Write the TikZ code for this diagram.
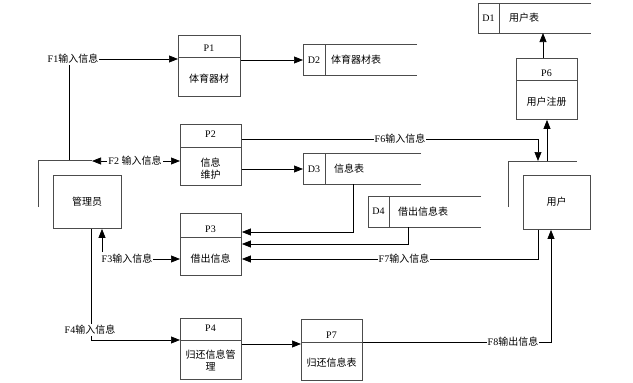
\documentclass[tikz,border=0pt]{standalone}
\usepackage{fontspec}
\setmainfont{Liberation Serif}
\newfontfamily\zhfont{Noto Sans CJK SC}
\newcommand{\zh}[1]{{\zhfont #1}}
\usetikzlibrary{arrows.meta}
\begin{document}
\begin{tikzpicture}[x=1pt,y=-1pt,
  every node/.style={font=\fontsize{10}{12}\selectfont, inner sep=0pt},
  box/.style={draw=black!70, line width=0.9pt, rectangle, anchor=north west},
  line/.style={draw=black, line width=0.7pt},
  arr/.style={line, -{Triangle[length=9pt,width=7pt]}},
  darr/.style={line, {Triangle[length=9pt,width=7pt]}-{Triangle[length=9pt,width=7pt]}},
  lbl/.style={fill=white, inner xsep=1pt, inner ysep=1pt},
  sep/.style={draw=black!70, line width=0.9pt}]
\useasboundingbox (0,0) rectangle (633,383);

% ---------- process boxes ----------
\node[box, minimum width=62pt, minimum height=61pt] (P1) at (178,35) {};
\draw[sep] (178,57) -- (240,57);
\node (P1t) at (209,48) {P1};
\node (P1b) at (209,79) {\zh{体育器材}};

\node[box, minimum width=61pt, minimum height=61pt] (P2) at (180,124) {};
\draw[sep] (180,147) -- (241,147);
\node (P2t) at (210.5,134) {P2};
\node[align=center] (P2b) at (210.5,168.5) {\zh{信息}\\\zh{维护}};

\node[box, minimum width=61pt, minimum height=62pt] (P3) at (180,213) {};
\draw[sep] (180,237) -- (241,237);
\node (P3t) at (210.5,229) {P3};
\node (P3b) at (210.5,259) {\zh{借出信息}};

\node[box, minimum width=61pt, minimum height=61pt] (P4) at (180,318) {};
\draw[sep] (180,340) -- (241,340);
\node (P4t) at (210.5,328) {P4};
\node[align=center] (P4b) at (210.5,360.5) {\zh{归还信息管}\\\zh{理}};

\node[box, minimum width=61pt, minimum height=61pt] (P7) at (301,319) {};
\draw[sep] (301,342) -- (362,342);
\node (P7t) at (331.5,335) {P7};
\node (P7b) at (331.5,363) {\zh{归还信息表}};

\node[box, minimum width=61pt, minimum height=61pt] (P6) at (516,58) {};
\draw[sep] (516,80) -- (577,80);
\node (P6t) at (546.5,73) {P6};
\node (P6b) at (546.5,102) {\zh{用户注册}};

% ---------- data stores ----------
\draw[sep] (417,44) -- (303,44) -- (303,75) -- (417,75);
\draw[sep] (325,44) -- (325,75);
\node (D2t) at (314,60) {D2};
\node (D2b) at (356,60) {\zh{体育器材表}};
\coordinate (D2) at (303,60);

\draw[sep] (591,3) -- (478,3) -- (478,33) -- (591,33);
\draw[sep] (499,3) -- (499,33);
\node (D1t) at (488.5,18) {D1};
\node (D1b) at (524,18) {\zh{用户表}};
\coordinate (D1) at (543,33);

\draw[sep] (421,153) -- (303,153) -- (303,184) -- (421,184);
\draw[sep] (325,153) -- (325,184);
\node (D3t) at (314,169) {D3};
\node (D3b) at (349,169) {\zh{信息表}};
\coordinate (D3in) at (303,169);
\coordinate (D3out) at (353,184);

\draw[sep] (481,196) -- (368,196) -- (368,227) -- (481,227);
\draw[sep] (389,196) -- (389,227);
\node (D4t) at (378.5,211.5) {D4};
\node (D4b) at (423,211.5) {\zh{借出信息表}};
\coordinate (D4out) at (408,227);

% ---------- external entities ----------
\node[box, minimum width=68pt, minimum height=53pt] (M) at (53,175) {};
\node (Mt) at (87,202) {\zh{管理员}};
\draw[sep] (38,207) -- (38,160) -- (92,160);
\coordinate (Mtop) at (69,160);
\coordinate (Mleft) at (92,161);

\node[box, minimum width=67pt, minimum height=54pt] (U) at (523,175) {};
\node (Ut) at (556.5,202) {\zh{用户}};
\draw[sep] (508,207) -- (508,161) -- (577,161);
\coordinate (Utop1) at (538,161);
\coordinate (Utop2) at (547,161);

% ---------- connectors ----------
% F1
\draw[arr] (Mtop) -- (69,59) -- (P1.west |- 0,59);
\node[lbl] (F1) at (73,59) {F1\zh{输入信息}};
% P1 -> D2
\draw[arr] (P1.east |- 0,60) -- (D2);
% F2
\draw[darr] (Mleft) -- (P2.west |- 0,161);
\node[lbl] (F2) at (135,161) {F2 \zh{输入信息}};
% P2 -> D3
\draw[arr] (P2.east |- 0,169) -- (D3in);
% F6
\draw[arr] (P2.east |- 0,139) -- (538,139) -- (Utop1);
\node[lbl] (F6) at (400,139) {F6\zh{输入信息}};
% D3 -> P3
\draw[arr] (D3out) -- (353,232) -- (P3.east |- 0,232);
% D4 -> P3
\draw[arr] (D4out) -- (408,244) -- (P3.east |- 0,244);
% F7
\draw[arr] (U.south -| 538,0) -- (538,259) -- (P3.east |- 0,259);
\node[lbl] (F7) at (404,259) {F7\zh{输入信息}};
% F3
\node[lbl] (F3) at (127,259) {F3\zh{输入信息}};
\draw[arr] (F3.east) -- (P3.west |- 0,259);
\draw[arr] (102,252) -- (M.south -| 102,0);
% F4
\draw[arr] (M.south -| 91,0) -- (91,340) -- (P4.west |- 0,340);
\node[lbl] (F4) at (90,330) {F4\zh{输入信息}};
% P4 -> P7
\draw[arr] (P4.east |- 0,344) -- (P7.west |- 0,344);
% F8
\draw[arr] (P7.east |- 0,342) -- (551,342) -- (U.south -| 551,0);
\node[lbl] (F8) at (513,342) {F8\zh{输出信息}};
% P6 -> D1
\draw[arr] (P6.north -| 543,0) -- (D1);
% U -> P6
\draw[arr] (Utop2) -- (P6.south -| 547,0);
\end{tikzpicture}
\end{document}
